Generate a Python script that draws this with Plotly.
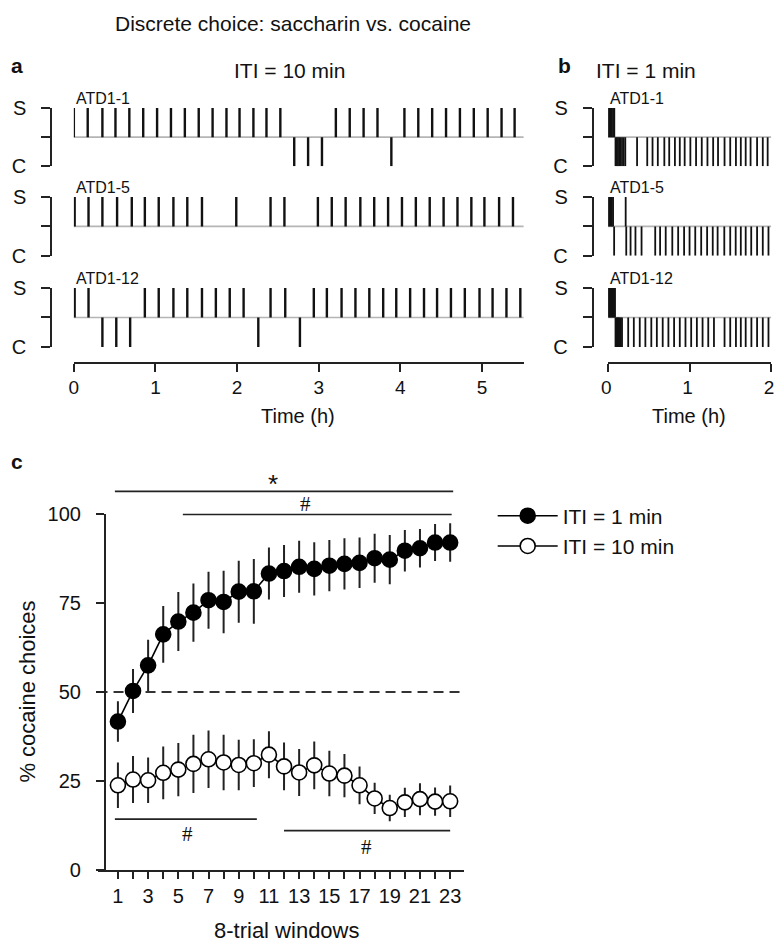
import plotly.graph_objects as go

W, H = 780, 951

# --- data -------------------------------------------------------------
# panel a (ITI = 10 min), choice times in hours
a1_sacch = [0.00, 0.17, 0.35, 0.51, 0.68, 0.85, 1.02, 1.19, 1.36, 1.53, 1.70, 1.87,
            2.03, 2.20, 2.36, 2.53, 3.21, 3.38, 3.55, 3.72, 4.05, 4.22, 4.39, 4.56,
            4.73, 4.90, 5.07, 5.24, 5.40]
a1_coc = [2.70, 2.87, 3.04, 3.89]
a5_sacch = [0.01, 0.18, 0.35, 0.53, 0.71, 0.87, 1.04, 1.22, 1.39, 1.57, 1.99, 2.41,
            2.58, 2.99, 3.16, 3.33, 3.51, 3.68, 3.85, 4.02, 4.19, 4.36, 4.53, 4.70,
            4.87, 5.03, 5.21, 5.38]
a5_coc = []
a12_sacch = [0.01, 0.18, 0.87, 1.04, 1.22, 1.39, 1.57, 1.74, 1.91, 2.08, 2.41, 2.59,
             2.94, 3.10, 3.28, 3.45, 3.62, 3.79, 3.95, 4.12, 4.29, 4.45, 4.62, 4.79,
             4.97, 5.13, 5.30, 5.47]
a12_coc = [0.35, 0.52, 0.69, 2.26, 2.77]

# panel b (ITI = 1 min)
b1_sacch = [0.00, 0.015, 0.03, 0.045, 0.06, 0.075]
b1_coc = [0.09, 0.105, 0.12, 0.135, 0.15, 0.17, 0.19, 0.21, 0.355, 0.48, 0.545, 0.61,
          0.69, 0.75, 0.82, 0.88, 0.94, 1.01, 1.08, 1.15, 1.22, 1.29, 1.35, 1.43,
          1.50, 1.57, 1.63, 1.69, 1.75, 1.83, 1.90, 1.96]
b5_sacch = [0.00, 0.015, 0.03, 0.045, 0.06, 0.215]
b5_coc = [0.073, 0.222, 0.275, 0.335, 0.41, 0.578, 0.638, 0.707, 0.788, 0.86, 0.933,
          1.00, 1.07, 1.143, 1.216, 1.285, 1.345, 1.427, 1.50, 1.567, 1.63, 1.69,
          1.758, 1.83, 1.90, 1.97]
b12_sacch = [0.00, 0.012, 0.024, 0.036, 0.048, 0.06, 0.072, 0.084]
b12_coc = [0.09, 0.10, 0.11, 0.12, 0.13, 0.14, 0.155, 0.17, 0.246, 0.315, 0.388,
           0.457, 0.53, 0.598, 0.67, 0.74, 0.81, 0.88, 0.95, 1.02, 1.09, 1.16, 1.23,
           1.30, 1.43, 1.50, 1.57, 1.63, 1.69, 1.76, 1.83, 1.90, 1.97]

rats = ["ATD1-1", "ATD1-5", "ATD1-12"]

# panel c
windows = list(range(1, 24))
iti1_mean = [41.7, 50.3, 57.5, 66.2, 69.8, 72.3, 75.8, 75.3, 78.2, 78.3, 83.3, 84.0,
             85.2, 84.6, 85.5, 86.0, 86.3, 87.6, 87.2, 89.7, 90.4, 92.0, 92.0]
iti1_sem = [5.7, 6.2, 7.2, 8.0, 8.3, 8.2, 8.0, 8.8, 8.7, 9.1, 7.3, 7.3, 7.3, 7.5,
            7.2, 7.2, 7.1, 6.9, 6.9, 5.8, 5.4, 5.2, 5.4]
iti10_mean = [23.8, 25.4, 25.2, 27.3, 28.2, 29.8, 31.1, 30.2, 29.5, 30.0, 32.4, 29.1,
              27.4, 29.4, 27.1, 26.5, 23.8, 20.1, 17.4, 19.0, 19.9, 19.2, 19.3]
iti10_sem = [6.4, 6.6, 6.4, 7.4, 7.5, 8.2, 8.1, 7.8, 7.1, 6.7, 6.6, 6.7, 6.6, 6.7,
             6.4, 6.1, 5.3, 4.4, 3.7, 4.1, 4.5, 4.0, 4.4]

# significance bars: (symbol, first window, last window, symbol x)
sig_bars = [("*", 0.8, 23.2, 11.3), ("#", 5.3, 23.1, 13.4),
            ("#", 0.8, 10.2, 5.6), ("#", 12.0, 23.0, 17.45)]
sig_px = [(491.7, 484), (515.5, 505), (827.3, 843), (839.0, 856)]

FONT = "Arial, Liberation Sans, sans-serif"
SERIF = "Times New Roman, Liberation Serif, serif"
NB = "\u00a0"


def fx(px):
    return px / W


def fy(py):
    return 1 - py / H


def ax(n):
    return "" if n == 1 else str(n)


def spikes(times, sign):
    """Vertical tick marks from the baseline (0) up (+1) or down (-1)."""
    xs, ys = [], []
    for t in times:
        xs += [t, t, None]
        ys += [0, sign, None]
    return xs, ys


fig = go.Figure()
layout = {}
shapes = []
annotations = []

ROW_PX = [(99.3, 159.0), (190.5, 250.5), (283.5, 344.0)]
panels = [
    # (first axis id, x domain px, x range, bracket px, data, line width, label shift)
    (1, (67.7, 523.3), [0, 5.51], 45.0,
     [(a1_sacch, a1_coc), (a5_sacch, a5_coc), (a12_sacch, a12_coc)], 2.4, 0),
    (4, (609.0, 774.0), [0, 2.002], 593.5,
     [(b1_sacch, b1_coc), (b5_sacch, b5_coc), (b12_sacch, b12_coc)], 1.8, -2),
]

for first, xdom, xrng, brk, data, lw, shift in panels:
    for r, (sacch, coc) in enumerate(data):
        n = ax(first + r)
        top, bot = ROW_PX[r]
        for times, sign in ((sacch, 1), (coc, -1)):
            xs, ys = spikes(times, sign)
            fig.add_trace(go.Scatter(
                x=xs, y=ys, mode="lines", xaxis=f"x{n}", yaxis=f"y{n}",
                line=dict(color="#111", width=lw), showlegend=False,
                hoverinfo="skip",
            ))
        last = r == 2
        layout[f"xaxis{n}"] = dict(
            domain=[fx(xdom[0]), fx(xdom[1])], range=xrng,
            anchor="free" if last else f"y{n}", position=fy(360),
            visible=last, showline=True, linecolor="#222", linewidth=2,
            ticks="outside", ticklen=8, tickwidth=2, tickcolor="#222",
            dtick=1, tick0=0, showgrid=False, zeroline=False,
            tickfont=dict(size=19, color="#111"), ticklabelshift=shift,
        )
        layout[f"yaxis{n}"] = dict(
            domain=[fy(bot), fy(top)], range=[-1, 1], anchor="free",
            position=fx(brk), tickvals=[-1, 0, 1],
            ticktext=["C" + NB * 2, "", "S" + NB * 2],
            ticks="outside", ticklen=9, tickwidth=2, tickcolor="#222",
            showline=True, linecolor="#222", linewidth=2, showgrid=False,
            zeroline=False, tickfont=dict(size=20, color="#111"),
        )
        shapes.append(dict(
            type="line", xref=f"x{n} domain", yref=f"y{n}", x0=0, x1=1, y0=0,
            y1=0, line=dict(color="#b5b5b5", width=1.6), layer="below",
        ))
        annotations.append(dict(
            text=rats[r], xref="paper", yref="paper", x=fx(xdom[0]),
            y=fy(top - 10), xanchor="left", yanchor="middle", showarrow=False,
            font=dict(size=16, color="#111"),
        ))

# --- panel c ---------------------------------------------------------
for mean, sem, fill, name in ((iti1_mean, iti1_sem, "black", "ITI = 1 min"),
                              (iti10_mean, iti10_sem, "white", "ITI = 10 min")):
    fig.add_trace(go.Scatter(
        x=windows, y=mean, mode="lines+markers", name=name, xaxis="x7",
        yaxis="y7", line=dict(color="black", width=1.6),
        marker=dict(size=15, color=fill, line=dict(color="black", width=1.6)),
        error_y=dict(type="data", array=sem, visible=True, thickness=2,
                     width=0, color="#222"),
        cliponaxis=False,
    ))

layout["xaxis7"] = dict(
    domain=[fx(91.7), fx(463.3)], range=[-0.35, 23.94], anchor="y7",
    tickvals=windows, ticktext=[str(w) if w % 2 else "" for w in windows],
    ticks="outside", ticklen=7, tickwidth=2, tickcolor="#222", showline=True,
    linecolor="#222", linewidth=2, showgrid=False, zeroline=False,
    tickfont=dict(size=20, color="#111"),
)
layout["yaxis7"] = dict(
    domain=[fy(879.3), fy(515.0)], range=[0, 100], anchor="free",
    position=fx(99.3), tickvals=[0, 25, 50, 75, 100],
    ticktext=[f"{v}{NB * 2}" for v in (0, 25, 50, 75, 100)], ticks="outside",
    ticklen=8, tickwidth=2, tickcolor="#222", showline=True, linecolor="#222",
    linewidth=2, showgrid=False, zeroline=False,
    tickfont=dict(size=20, color="#111"),
)

shapes.append(dict(
    type="line", xref="x7", yref="y7", x0=-0.35, x1=23.7, y0=50, y1=50,
    line=dict(color="#333", width=2, dash="10px,6px"), layer="below",
))
for (sym, x0, x1, sx), (ly, sy) in zip(sig_bars, sig_px):
    shapes.append(dict(
        type="line", xref="x7", yref="paper", x0=x0, x1=x1, y0=fy(ly),
        y1=fy(ly), line=dict(color="#222", width=1.6),
    ))
    annotations.append(dict(
        text=sym, xref="x7", yref="paper", x=sx, y=fy(sy), showarrow=False,
        font=dict(size=26 if sym == "*" else 21, color="#111",
                  family=FONT if sym == "*" else SERIF),
        xanchor="center", yanchor="middle",
    ))

# --- titles / panel letters / axis titles ------------------------------
texts = [
    ("Discrete choice: saccharin vs. cocaine", 290, 13, 21, False, "center", 0),
    ("a", 2, 56, 21, True, "left", 0),
    ("ITI = 10 min", 286, 61, 21, False, "center", 0),
    ("b", 556, 56, 21, True, "left", 0),
    ("ITI = 1 min", 647, 61, 21, False, "center", 0),
    ("c", 2, 461, 21, True, "left", 0),
    ("Time (h)", 295, 415, 20, False, "center", 0),
    ("Time (h)", 691, 415, 20, False, "center", 0),
    ("8-trial windows", 284, 941, 22, False, "center", 0),
    ("% cocaine choices", 21, 697, 22, False, "center", -90),
]
for txt, px, py, size, bold, anchor, angle in texts:
    annotations.append(dict(
        text=f"<b>{txt}</b>" if bold else txt, xref="paper", yref="paper",
        x=fx(px), y=fy(py), xanchor=anchor, yanchor="middle", showarrow=False,
        font=dict(size=size, color="#111"), textangle=angle,
    ))

fig.update_layout(
    width=W, height=H, margin=dict(l=0, r=0, t=0, b=0),
    paper_bgcolor="white", plot_bgcolor="white",
    font=dict(family=FONT, color="#111"),
    shapes=shapes, annotations=annotations,
    legend=dict(x=fx(492), y=fy(496), xanchor="left", yanchor="top",
                font=dict(size=21, color="#111"), bgcolor="rgba(0,0,0,0)",
                itemwidth=60, tracegroupgap=0),
    **layout,
)

# the page body has a default 8px margin; drop it so the figure sits at 0,0
fig.write_html("out.html", config={"displayModeBar": False},
               post_script="document.body.style.margin = '0';")
